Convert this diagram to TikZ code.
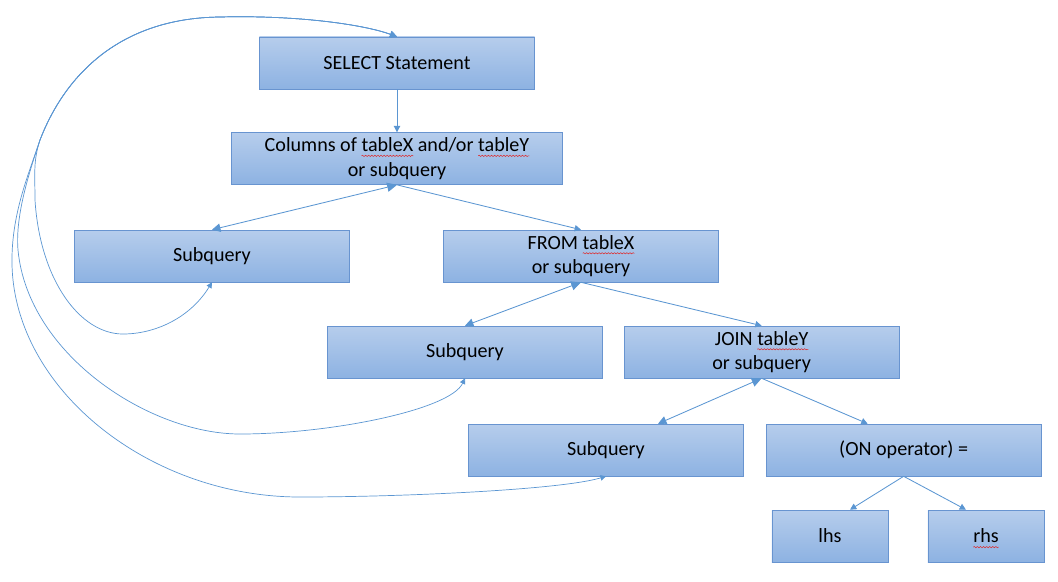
\documentclass[tikz,border=0pt]{standalone}
\usepackage{fontspec}
\setmainfont{Carlito}
\usepackage{tikz}
\usetikzlibrary{arrows.meta,positioning,decorations.pathmorphing}
\definecolor{boxtop}{RGB}{182,205,236}
\definecolor{boxbot}{RGB}{141,178,226}
\definecolor{boxline}{RGB}{104,148,208}
\definecolor{linkblue}{RGB}{91,150,210}
\definecolor{squiggle}{RGB}{225,35,35}
% red wavy underline (spell check)
\newcommand{\typo}[1]{\setbox0=\hbox{#1}\leavevmode\rlap{\tikz[baseline=0pt, overlay]\draw[squiggle, line width=0.35pt, decorate, decoration={snake, amplitude=0.45pt, segment length=2.2pt}] (0pt,-3pt) -- (\wd0,-3pt);}\copy0\relax}

\begin{document}
\begin{tikzpicture}[
  x=0.025cm, y=-0.025cm,
  stmt/.style={draw=boxline, top color=boxtop, bottom color=boxbot, minimum width=6.875cm, minimum height=1.3cm, inner sep=2pt, align=center, text=black, font=\fontsize{14.3}{17.5}\selectfont},
  link/.style={-{Triangle[length=4.5pt,width=4.5pt]}, line width=0.6pt, linkblue},
  twoway/.style={{Triangle[length=7pt,width=6.5pt]}-{Triangle[length=6pt,width=6pt]}, line width=0.6pt, linkblue},
  backlink/.style={{Triangle[length=4pt,width=4pt]}-{Triangle[length=5pt,width=5pt]}, line width=0.5pt, linkblue}
]
\useasboundingbox (0,0) rectangle (1058,581);

\node[stmt] (select) at (397,63) {SELECT Statement};
\node[stmt, minimum width=8.275cm, below=1.075cm of select] (cols) {Columns of \typo{tableX} and/or \typo{tableY}\\or subquery};
\node[stmt] (sub1) at (212,256) {Subquery};
\node[stmt] (from) at (581,256) {FROM \typo{tableX}\\or subquery};
\node[stmt] (sub2) at (465,352) {Subquery};
\node[stmt, right=0.525cm of sub2] (join) {JOIN \typo{tableY}\\or subquery};
\node[stmt] (sub3) at (606,450) {Subquery};
\node[stmt, right=0.55cm of sub3] (on) {(ON operator) =};
\node[stmt, minimum width=2.9cm] (lhs) at (830,536) {lhs};
\node[stmt, minimum width=2.9cm] (rhs) at (986,536) {\typo{rhs}};

\draw[link] (select) -- (cols);
\draw[twoway] (cols.south) -- (sub1.north);
\draw[link] (cols.south) -- (from.north);
\draw[twoway] (from.south) -- (sub2.north);
\draw[link] (from.south) -- (join.north);
\draw[twoway] (join.south) -- ([xshift=1.3cm]sub3.north);
\draw[link] (join.south) -- ([xshift=-0.9cm]on.north);
\draw[link] (on.south) -- ([xshift=0.5cm]lhs.north);
\draw[link] (on.south) -- ([xshift=-0.5cm]rhs.north);

% subqueries loop back to the statement
\draw[backlink] (sub1.south) .. controls (190,318) and (155,334) .. (123,334)
  .. controls (80,334) and (40,280) .. (35,200)
  .. controls (35,175) and (33,161) .. (40,140)
  .. controls (65,75) and (120,18) .. (220,17)
  .. controls (300,15) and (365,25) .. (select.north);
\draw[backlink] (sub2.south) .. controls (450,410) and (330,434) .. (240,434)
  .. controls (150,434) and (28,355) .. (18,250)
  .. controls (15,215) and (30,170) .. (40,140)
  .. controls (65,75) and (120,18) .. (220,17)
  .. controls (300,15) and (365,25) .. (select.north);
\draw[backlink] (sub3.south) .. controls (560,490) and (400,497) .. (300,497)
  .. controls (150,497) and (15,390) .. (12,265)
  .. controls (11,215) and (28,176) .. (40,140)
  .. controls (65,75) and (120,18) .. (220,17)
  .. controls (300,15) and (365,25) .. (select.north);
\end{tikzpicture}
\end{document}
